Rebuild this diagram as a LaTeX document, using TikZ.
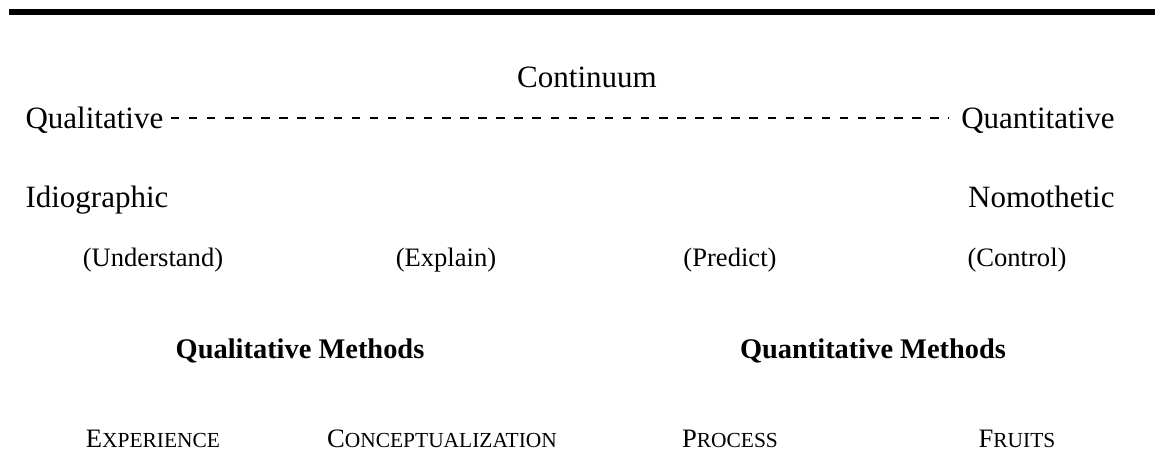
\documentclass[tikz,border=0pt]{standalone}
\usepackage{fontspec}
\setmainfont{Liberation Serif}
\usetikzlibrary{calc}

% first letter full size, the rest in smaller capitals
\newcommand{\smcap}[2]{#1{\fontsize{8.3pt}{10pt}\selectfont #2}}

\begin{document}
\begin{tikzpicture}[x=0.3871pt,y=-0.3871pt,
	bigtxt/.style={font=\fontsize{12pt}{14pt}\selectfont,inner sep=0pt},
	smalltxt/.style={font=\fontsize{10.3pt}{12pt}\selectfont,inner sep=0pt,anchor=base},
	headtxt/.style={font=\fontsize{11pt}{13pt}\selectfont\bfseries,inner sep=0pt,anchor=base},
	capstxt/.style={font=\fontsize{10.3pt}{12pt}\selectfont,inner sep=0pt,anchor=base},
	dashrule/.style={line width=0.8pt,dash pattern=on 3.3pt off 3.7pt}]
	\useasboundingbox (0,0) rectangle (1155,451);
	
	\draw[line width=2.3pt] (9,12) -- (1155,12);
	
	\node[bigtxt,anchor=base] (cont) at (587,87) {Continuum};
	
	\node[bigtxt,anchor=base west] (qual) at (25,128) {Qualitative};
	\node[bigtxt,anchor=base east] (quant) at (1115,128) {Quantitative};
	\draw[dashrule] ($(qual.base east)+(7,-10)$) -- ($(quant.base west)+(-12,-10)$);
	
	\node[bigtxt,anchor=base west] (idio) at (25,207) {Idiographic};
	\node[bigtxt,anchor=base east] (nomo) at (1115,207) {Nomothetic};
	
	\node[smalltxt] (under) at (153,266) {(Understand)};
	\node[smalltxt] (expl) at (446,266) {(Explain)};
	\node[smalltxt] (pred) at (730,266) {(Predict)};
	\node[smalltxt] (ctrl) at (1017,266) {(Control)};
	
	\node[headtxt] (qualm) at (300,358) {Qualitative Methods};
	\node[headtxt] (quantm) at (873,358) {Quantitative Methods};
	
	\node[capstxt] (exper) at (153,447) {\smcap{E}{XPERIENCE}};
	\node[capstxt] (concept) at (442,447) {\smcap{C}{ONCEPTUALIZATION}};
	\node[capstxt] (proc) at (730,447) {\smcap{P}{ROCESS}};
	\node[capstxt] (fruit) at (1017,447) {\smcap{F}{RUITS}};
\end{tikzpicture}
\end{document}
